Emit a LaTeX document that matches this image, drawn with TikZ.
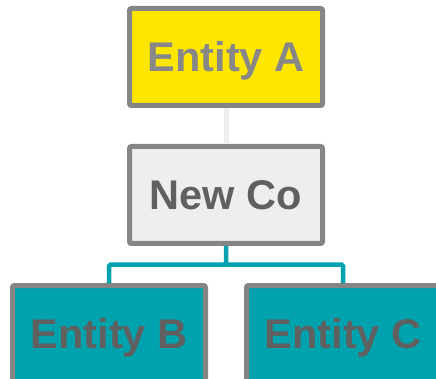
\documentclass[tikz,border=0pt]{standalone}
\usepackage{fontspec}
\setmainfont{Liberation Sans}
\usetikzlibrary{positioning, calc}

\definecolor{entyellow}{HTML}{FFE600}
\definecolor{entteal}{HTML}{00A3AD}
\definecolor{entgrey}{HTML}{EEEEEE}
\definecolor{boxline}{HTML}{858585}
\definecolor{labeldark}{HTML}{606060}
\definecolor{labellight}{HTML}{878787}

\begin{document}
\begin{tikzpicture}[
  x=1pt, y=1pt,
  % ---- styles ----
  entity/.style = {
    rectangle, draw=boxline, line width=5pt,
    rounded corners=2pt,
    minimum width=193pt, minimum height=97pt,
    inner sep=0pt,
    text height=29.8pt, text depth=0pt,
    font=\fontsize{41.5}{45}\selectfont\bfseries,
    text=labeldark
  },
  owner/.style = {draw=entgrey, line width=5pt},
  sub/.style = {draw=entteal, line width=4.5pt, rounded corners=1.5pt}
]
\useasboundingbox (0,0) rectangle (436,-379);
\clip (0,0) rectangle (436,-379);

% ============ ENTITIES ============

% --- top holder ---
\node[entity, fill=entyellow, text=labellight] (enta) at (226, -57) {Entity A};

% --- new company ---
\node[entity, fill=entgrey] (newco) at (226, -195) {New Co};

% --- subsidiaries ---
\node[entity, fill=entteal] (entb) at (109, -334) {Entity B};
\node[entity, fill=entteal] (entc) at (343, -334) {Entity C};

% ============ LINKS ============

% Entity A -- New Co
\draw[owner] (enta.south) -- (newco.north);

% New Co -- Entity B / Entity C
\coordinate (split) at ($(newco.south) + (0, -18.5)$);
\draw[sub] (newco.south) -- (split) -| (entb.north);
\draw[sub] (split) -| (entc.north);

\end{tikzpicture}
\end{document}
